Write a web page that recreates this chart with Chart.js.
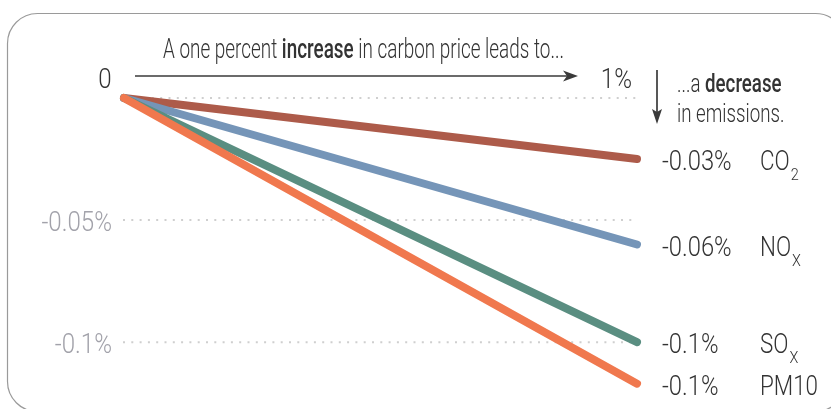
<!DOCTYPE html>
<html>
<head>
<meta charset="utf-8">
<script src="https://cdn.jsdelivr.net/npm/chart.js@4"></script>
<style>
  html, body { margin: 0; padding: 0; background: #fff; }
  #wrap { width: 831px; height: 409px; position: relative; }
</style>
</head>
<body>
<div id="wrap"><canvas id="grafico"></canvas></div>
<script>
// data
const xLabels = ['0', '1%'];
const pollutants = ['CO2', 'NOx', 'SOx', 'PM10'];
const endValues = [-0.025, -0.06, -0.1, -0.117];
const valueLabels = ['-0.03%', '-0.06%', '-0.1%', '-0.1%'];
const nameMain = ['CO', 'NO', 'SO', 'PM10'];
const nameSub = ['2', 'X', 'X', ''];
const yTicks = [0, -0.05, -0.1];
const yTickLabels = ['', '-0.05%', '-0.1%'];
const cores = ['#ad5b4a', '#7595b8', '#5a8e81', '#f0784e'];

const FONT = 'Roboto, "Open Sans", sans-serif';
const DARK = '#333333';

// squeezed text, the original uses a condensed face
function txt(ctx, s, x, y, o) {
  const size = o.size || 26, weight = o.weight || 300, sx = o.sx || 0.8;
  ctx.save();
  ctx.font = `${weight} ${size}px ${FONT}`;
  ctx.fillStyle = o.color || DARK;
  ctx.textBaseline = 'alphabetic';
  const w = ctx.measureText(s).width * sx;
  let x0 = x;
  if (o.align === 'right') x0 = x - w;
  if (o.align === 'center') x0 = x - w / 2;
  ctx.translate(x0, y);
  ctx.scale(sx, 1);
  ctx.fillText(s, 0, 0);
  ctx.restore();
  return w;
}

function dotted(ctx, x1, x2, y) {
  ctx.save();
  ctx.strokeStyle = '#cfcfcf';
  ctx.lineWidth = 2;
  ctx.setLineDash([2, 6.3]);
  ctx.beginPath();
  ctx.moveTo(x1, y);
  ctx.lineTo(x2, y);
  ctx.stroke();
  ctx.restore();
}

const moldura = {
  id: 'moldura',
  beforeDraw(chart) {
    const ctx = chart.ctx;
    ctx.save();
    ctx.strokeStyle = '#9a9a9a';
    ctx.lineWidth = 1.2;
    ctx.beginPath();
    ctx.roundRect(7.5, 13.5, 838, 398, 30);
    ctx.stroke();
    ctx.restore();

    // dotted gridlines through the y scale
    const { left, right } = chart.chartArea;
    const y = chart.scales.y;
    yTicks.forEach((t, i) => {
      const py = y.getPixelForValue(t);
      dotted(ctx, t === 0 ? left + 3 : left - 1, right, py);
      if (yTickLabels[i]) {
        txt(ctx, yTickLabels[i], left - 12, py + 11, { size: 28, color: '#a2a2aa', sx: 0.86, align: 'right' });
      }
    });
  },
  afterDraw(chart) {
    const ctx = chart.ctx;
    const x = chart.scales.x;
    const x0 = x.getPixelForValue(0);
    const x1 = x.getPixelForValue(1);

    // title line
    let tx = 163;
    tx += txt(ctx, 'A one percent ', tx, 58, { size: 27, sx: 0.7 });
    tx += txt(ctx, 'increase', tx, 58, { size: 27, weight: 500, sx: 0.7 });
    txt(ctx, ' in carbon price leads to...', tx, 58, { size: 27, sx: 0.7 });

    // x labels at the top
    txt(ctx, xLabels[0], x0 - 19, 88, { size: 28, sx: 0.86, align: 'center' });
    txt(ctx, xLabels[1], x1 - 5, 88, { size: 28, sx: 0.86, align: 'right' });

    // horizontal arrow
    ctx.save();
    ctx.strokeStyle = '#3a3a3a';
    ctx.fillStyle = '#3a3a3a';
    ctx.lineWidth = 1.7;
    ctx.beginPath();
    ctx.moveTo(x0 + 11, 76);
    ctx.lineTo(x1 - 70, 76);
    ctx.stroke();
    const ax = x1 - 59;
    ctx.beginPath();
    ctx.moveTo(ax, 76);
    ctx.lineTo(ax - 15, 70.5);
    ctx.lineTo(ax - 11, 76);
    ctx.lineTo(ax - 15, 81.5);
    ctx.closePath();
    ctx.fill();

    // down arrow
    const dx = x1 + 20;
    ctx.beginPath();
    ctx.moveTo(dx, 70);
    ctx.lineTo(dx, 116);
    ctx.stroke();
    ctx.beginPath();
    ctx.moveTo(dx, 124);
    ctx.lineTo(dx - 5, 109);
    ctx.lineTo(dx, 112);
    ctx.lineTo(dx + 5, 109);
    ctx.closePath();
    ctx.fill();
    ctx.restore();

    let ex = x1 + 40;
    ex += txt(ctx, '...a ', ex, 92, { size: 26, sx: 0.72 });
    txt(ctx, 'decrease', ex, 92, { size: 26, weight: 500, sx: 0.72 });
    txt(ctx, 'in emissions.', x1 + 40, 122, { size: 26, sx: 0.72 });

    // end labels
    chart.data.datasets.forEach((ds, i) => {
      const meta = chart.getDatasetMeta(i);
      const p = meta.data[1];
      const k = ds.idx;
      txt(ctx, valueLabels[k], x1 + 25, p.y + 11, { size: 28, sx: 0.85 });
      const w = txt(ctx, nameMain[k], x1 + 123, p.y + 11, { size: 28, sx: 0.8 });
      if (nameSub[k]) {
        txt(ctx, nameSub[k], x1 + 123 + w + 1, p.y + 21, { size: 17, sx: 0.85 });
      }
    });
  }
};

// PM10 first so it sits on top
const ordem = [3, 2, 1, 0];
const datasets = ordem.map(k => ({
  idx: k,
  label: pollutants[k],
  data: [0, endValues[k]],
  borderColor: cores[k],
  backgroundColor: cores[k],
  borderWidth: 8,
  borderCapStyle: 'round',
  pointRadius: 0,
  tension: 0,
  clip: false
}));

new Chart(document.getElementById('grafico'), {
  type: 'line',
  data: { labels: xLabels, datasets },
  options: {
    responsive: true,
    maintainAspectRatio: false,
    animation: false,
    layout: { padding: { left: 124, right: 194, top: 98, bottom: 18 } },
    plugins: { legend: { display: false }, tooltip: { enabled: false } },
    scales: {
      x: { type: 'category', offset: false, display: false },
      y: { min: -0.12, max: 0, display: false }
    }
  },
  plugins: [moldura]
});
</script>
</body>
</html>
